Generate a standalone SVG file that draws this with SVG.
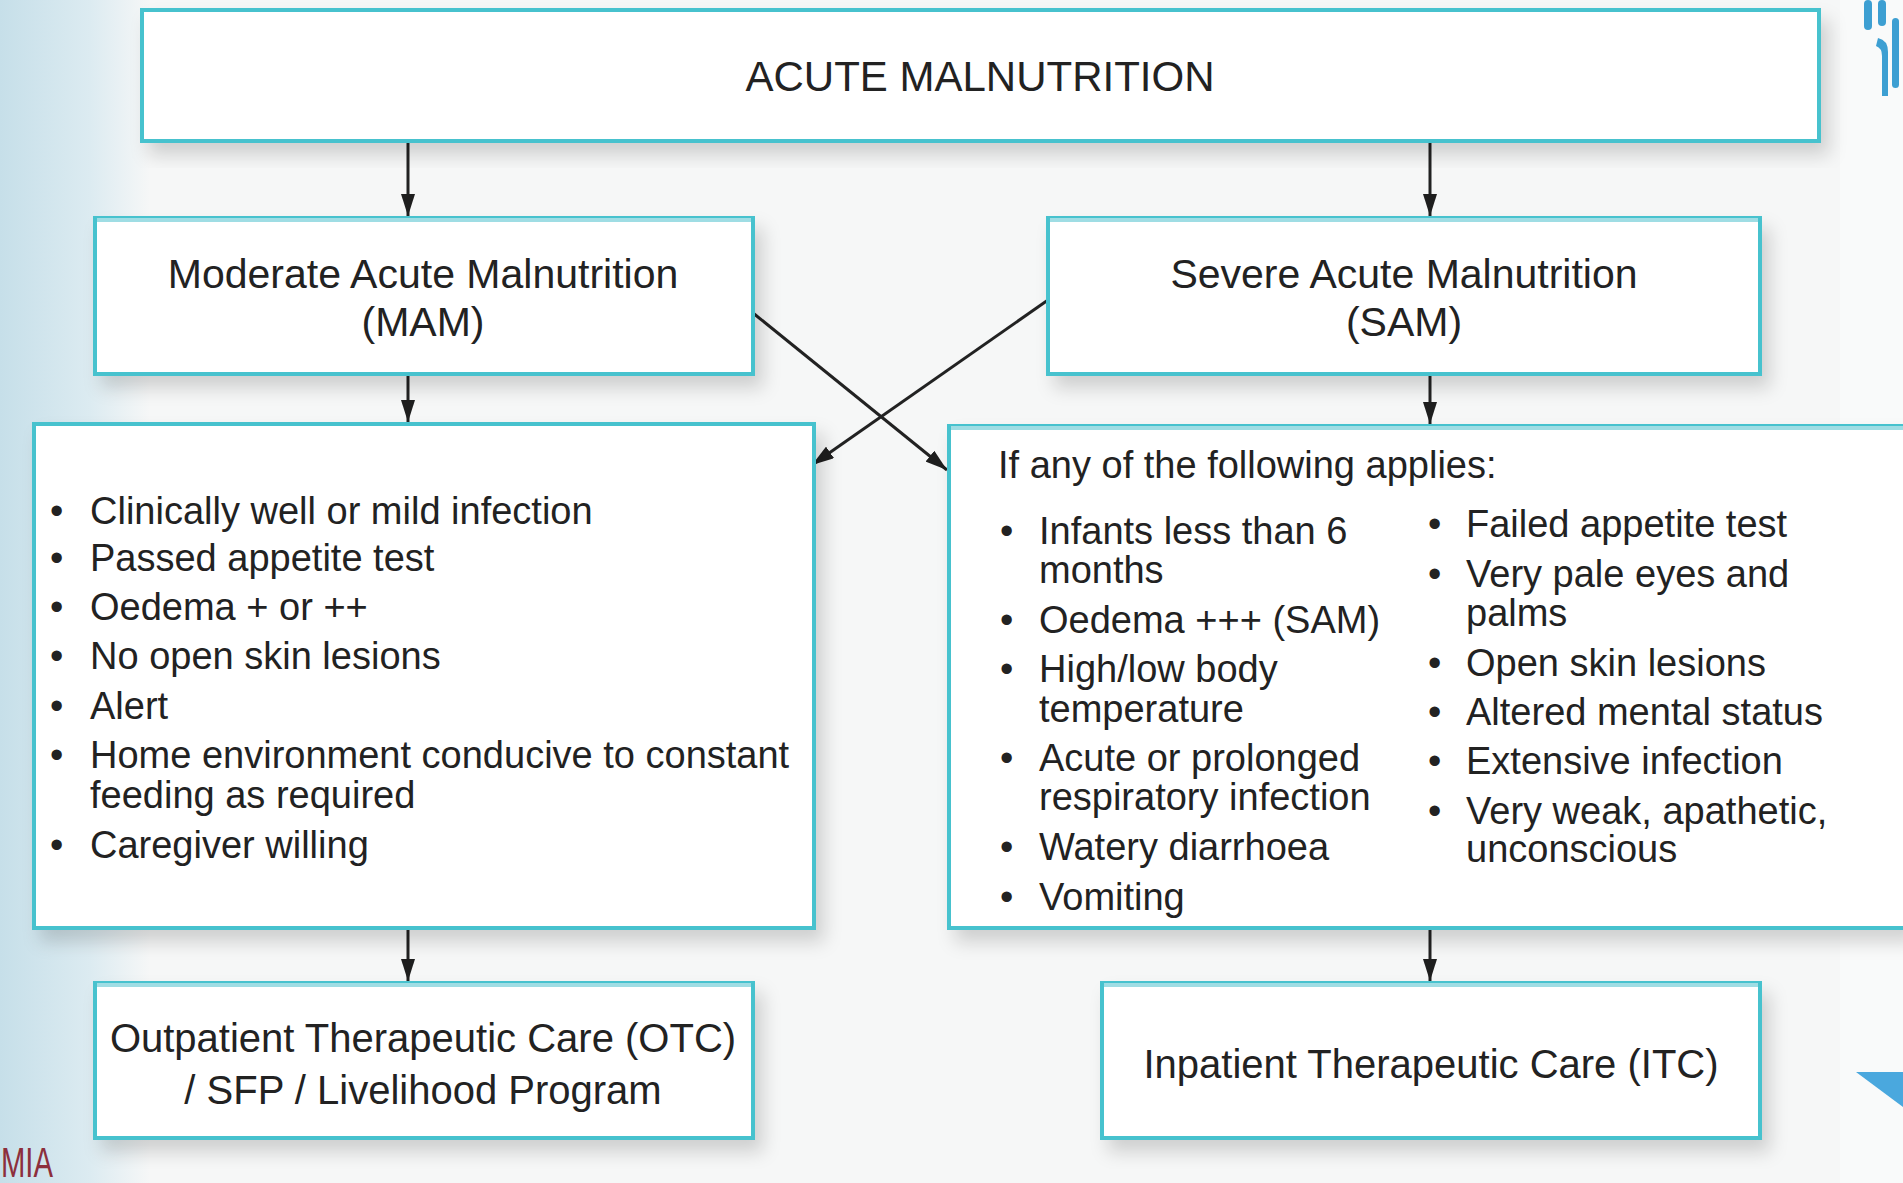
<svg xmlns="http://www.w3.org/2000/svg" width="1903" height="1183" viewBox="0 0 1903 1183">
<defs>
<linearGradient id="bgL" x1="0" y1="0" x2="1" y2="0">
<stop offset="0" stop-color="#c6dfe9"/>
<stop offset="0.6" stop-color="#dcebf1"/>
<stop offset="1" stop-color="#dcebf1" stop-opacity="0"/>
</linearGradient>
<filter id="sh" x="-10%" y="-10%" width="125%" height="130%">
<feDropShadow dx="8" dy="12" stdDeviation="9" flood-color="#000" flood-opacity="0.16"/>
</filter>
<marker id="ah" viewBox="0 0 22 14" refX="22" refY="7" markerWidth="22" markerHeight="14" orient="auto" markerUnits="userSpaceOnUse">
<path d="M0,0 L22,7 L0,14 z" fill="#1e1e1e"/>
</marker>
<style>
.box{fill:#fff;stroke:#47c2ce;stroke-width:4;filter:url(#sh)}
.hl{stroke:#9fdde4;stroke-width:4}
.t{font-family:"Liberation Sans",Arial,sans-serif;fill:#222}
.h{font-size:41px}
.l{font-size:38px}
.c{stroke:#222;stroke-width:3;fill:none;marker-end:url(#ah)}
</style>
</defs>
<rect width="1903" height="1183" fill="#f6f7f7"/>
<rect x="0" y="0" width="150" height="1183" fill="url(#bgL)"/>
<path d="M1903,0 L1840,0 L1840,1183 L1903,1183 Z" fill="#f9fafa"/>
<g id="logo" fill="#3d9fd2">
<rect x="1864" y="0" width="8" height="30" rx="4"/>
<rect x="1878" y="0" width="8" height="26" rx="4"/>
<rect x="1892" y="18" width="7" height="70" rx="3.5"/>
<path d="M1878,38 q10,2 10,14 l0,44 l-6,0 l0,-40 q0,-8 -6,-10 z"/>
</g>
<path d="M1856,1072 L1903,1072 L1903,1107 Z" fill="#4aa8de"/>
<text x="1" y="1177" font-family="Liberation Sans,Arial,sans-serif" font-size="42" fill="#8c2f3c" textLength="52" lengthAdjust="spacingAndGlyphs">MIA</text>

<g id="connectors">
<line class="c" x1="408" y1="142" x2="408" y2="216"/>
<line class="c" x1="1430" y1="142" x2="1430" y2="216"/>
<line class="c" x1="408" y1="374" x2="408" y2="422"/>
<line class="c" x1="1430" y1="374" x2="1430" y2="424"/>
<line class="c" x1="753" y1="313" x2="947" y2="470"/>
<line class="c" x1="1048" y1="300" x2="812" y2="465"/>
<line class="c" x1="408" y1="928" x2="408" y2="981"/>
<line class="c" x1="1430" y1="928" x2="1430" y2="981"/>
</g>

<g id="acute">
<rect class="box" x="142" y="10" width="1677" height="131"/>
<text class="t" x="980" y="91" text-anchor="middle" font-size="42">ACUTE MALNUTRITION</text>
</g>
<g id="mam">
<rect class="box" x="95" y="218" width="658" height="156"/>
<line class="hl" x1="97" y1="220" x2="751" y2="220"/>
<text class="t h" x="423" y="288" text-anchor="middle">Moderate Acute Malnutrition</text>
<text class="t h" x="423" y="336" text-anchor="middle">(MAM)</text>
</g>
<g id="sam">
<rect class="box" x="1048" y="218" width="712" height="156"/>
<line class="hl" x1="1050" y1="220" x2="1758" y2="220"/>
<text class="t h" x="1404" y="288" text-anchor="middle">Severe Acute Malnutrition</text>
<text class="t h" x="1404" y="336" text-anchor="middle">(SAM)</text>
</g>
<g id="mam-criteria">
<rect class="box" x="34" y="424" width="780" height="504"/>
<g class="t l">
<text x="50" y="524">•</text><text x="90" y="524">Clinically well or mild infection</text>
<text x="50" y="571">•</text><text x="90" y="571">Passed appetite test</text>
<text x="50" y="620">•</text><text x="90" y="620">Oedema + or ++</text>
<text x="50" y="669">•</text><text x="90" y="669">No open skin lesions</text>
<text x="50" y="719">•</text><text x="90" y="719">Alert</text>
<text x="50" y="768">•</text><text x="90" y="768">Home environment conducive to constant</text>
<text x="90" y="808">feeding as required</text>
<text x="50" y="858">•</text><text x="90" y="858">Caregiver willing</text>
</g>
</g>
<g id="sam-criteria">
<path class="box" d="M1910,426 L949,426 L949,928 L1910,928"/>
<line class="hl" x1="951" y1="428" x2="1903" y2="428"/>
<g class="t l">
<text x="998" y="478">If any of the following applies:</text>
<text x="1000" y="544">•</text><text x="1039" y="544">Infants less than 6</text>
<text x="1039" y="583">months</text>
<text x="1000" y="633">•</text><text x="1039" y="633">Oedema +++ (SAM)</text>
<text x="1000" y="682">•</text><text x="1039" y="682">High/low body</text>
<text x="1039" y="722">temperature</text>
<text x="1000" y="771">•</text><text x="1039" y="771">Acute or prolonged</text>
<text x="1039" y="810">respiratory infection</text>
<text x="1000" y="860">•</text><text x="1039" y="860">Watery diarrhoea</text>
<text x="1000" y="910">•</text><text x="1039" y="910">Vomiting</text>
<text x="1428" y="537">•</text><text x="1466" y="537">Failed appetite test</text>
<text x="1428" y="587">•</text><text x="1466" y="587">Very pale eyes and</text>
<text x="1466" y="626">palms</text>
<text x="1428" y="676">•</text><text x="1466" y="676">Open skin lesions</text>
<text x="1428" y="725">•</text><text x="1466" y="725">Altered mental status</text>
<text x="1428" y="774">•</text><text x="1466" y="774">Extensive infection</text>
<text x="1428" y="824">•</text><text x="1466" y="824">Very weak, apathetic,</text>
<text x="1466" y="862">unconscious</text>
</g>
</g>
<g id="otc">
<rect class="box" x="95" y="983" width="658" height="155"/>
<line class="hl" x1="97" y1="985" x2="751" y2="985"/>
<text class="t" x="423" y="1052" text-anchor="middle" font-size="40">Outpatient Therapeutic Care (OTC)</text>
<text class="t" x="423" y="1104" text-anchor="middle" font-size="40">/ SFP / Livelihood Program</text>
</g>
<g id="itc">
<rect class="box" x="1102" y="983" width="658" height="155"/>
<line class="hl" x1="1104" y1="985" x2="1758" y2="985"/>
<text class="t" x="1431" y="1078" text-anchor="middle" font-size="40">Inpatient Therapeutic Care (ITC)</text>
</g>
</svg>
